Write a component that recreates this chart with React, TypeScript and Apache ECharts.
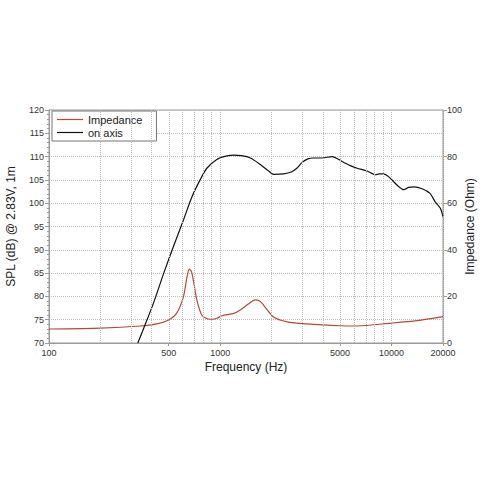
import React, { useEffect, useRef } from "react";
import * as echarts from "echarts";

// SPL "on axis" (dB) vs frequency (Hz)
const splFreq = [330, 364, 407, 468, 533, 610, 684, 763, 835, 955, 1080, 1200, 1330, 1500, 1715, 1900, 2050, 2345, 2600, 2800, 3000, 3250, 3500, 3935, 4500, 5240, 5800, 6300, 7200, 8050, 8500, 8980, 9620, 10770, 11800, 12600, 13500, 15100, 16800, 18000, 19300, 20000];
const splValues = [70, 73.9, 78.5, 85, 90.7, 96.4, 101.4, 105, 107.5, 109.4, 110.1, 110.3, 110.2, 109.7, 108.3, 107.0, 106.2, 106.3, 106.7, 107.5, 108.7, 109.5, 109.7, 109.7, 110, 108.8, 108.0, 107.5, 106.9, 106.1, 106.3, 106.3, 105.7, 103.9, 102.9, 103.4, 103.5, 103.1, 102.1, 100.3, 98.9, 97.1];

// Impedance (Ohm) vs frequency (Hz)
const impFreq = [100, 200, 340, 425, 500, 556, 610, 640, 660, 680, 700, 730, 780, 850, 900, 955, 1025, 1200, 1310, 1450, 1600, 1700, 1790, 2040, 2460, 3210, 5000, 6300, 9880, 14100, 20000];
const impValues = [6.0, 6.4, 7.3, 8.2, 9.9, 12.7, 19.9, 28.5, 31.7, 30.5, 26.0, 18.5, 12.0, 10.3, 10.2, 10.6, 11.7, 12.7, 14.2, 16.6, 18.5, 18.0, 16.3, 11.3, 9.1, 8.2, 7.4, 7.3, 8.5, 9.6, 11.3];

// Frequency grid lines and labels
const gridFreqs = [200, 300, 400, 500, 600, 700, 800, 900, 1000, 2000, 3000, 4000, 5000, 6000, 7000, 8000, 9000, 10000, 20000];
const labelFreqs = [100, 500, 1000, 5000, 10000, 20000];

const FONT = "Liberation Sans, Arial, Helvetica, sans-serif";

export default function App() {
  const ref = useRef<HTMLDivElement>(null);

  useEffect(() => {
    if (!ref.current) return;
    const chart = echarts.init(ref.current, undefined, { renderer: "svg" });
    const lg = (f: number) => Math.log10(f);

    const markData = gridFreqs.map((f) => ({ xAxis: lg(f) }));
    const labelValues = labelFreqs.map(lg);

    chart.setOption({
      animation: false,
      textStyle: { fontFamily: FONT },
      grid: {
        left: 49,
        right: 37,
        top: 110,
        bottom: 137,
        show: true,
        borderColor: "#9a9a9a",
        borderWidth: 1,
        backgroundColor: "transparent",
        outerBoundsMode: "none",
        containLabel: false,
      },
      legend: {
        left: 52,
        top: 111,
        orient: "vertical",
        backgroundColor: "#fff",
        borderColor: "#777",
        borderWidth: 1,
        borderRadius: 0,
        padding: [3, 14, 3, 5],
        itemGap: 2,
        itemWidth: 26,
        itemHeight: 12,
        textStyle: { fontSize: 11, color: "#222", fontFamily: FONT },
        data: [
          { name: "Impedance", icon: "path://M0,5.4 L26,5.4 L26,6.6 L0,6.6 Z" },
          { name: "on axis", icon: "path://M0,5.4 L26,5.4 L26,6.6 L0,6.6 Z" },
        ],
      },
      xAxis: {
        type: "value",
        min: lg(100),
        max: lg(20000),
        name: "Frequency (Hz)",
        nameLocation: "middle",
        nameGap: 18,
        nameMoveOverlap: false,
        nameTextStyle: { fontSize: 12, color: "#222", fontFamily: FONT },
        axisLine: { lineStyle: { color: "#9a9a9a" } },
        axisTick: {
          show: true,
          length: 3,
          customValues: labelValues,
          lineStyle: { color: "#9a9a9a" },
        },
        axisLabel: {
          show: true,
          customValues: labelValues,
          margin: 5,
          fontSize: 9,
          color: "#333",
          fontFamily: FONT,
          hideOverlap: false,
          showMinLabel: true,
          showMaxLabel: true,
          alignMinLabel: "center",
          alignMaxLabel: "center",
          formatter: (v: number) => String(Math.round(Math.pow(10, v))),
        },
        splitLine: { show: false },
      },
      yAxis: [
        {
          type: "value",
          min: 70,
          max: 120,
          interval: 5,
          name: "SPL (dB) @ 2.83V, 1m",
          nameLocation: "middle",
          nameGap: 32,
          nameMoveOverlap: false,
          nameTextStyle: { fontSize: 12, color: "#222", fontFamily: FONT },
          axisLine: { show: true, lineStyle: { color: "#9a9a9a" } },
          axisTick: { show: true, length: 4, lineStyle: { color: "#9a9a9a" } },
          minorTick: { show: true, splitNumber: 5, length: 2, lineStyle: { color: "#9a9a9a" } },
          axisLabel: { fontSize: 9, color: "#333", margin: 5, fontFamily: FONT },
          splitLine: { show: true, lineStyle: { type: "dotted", color: "#bbbbbb" } },
        },
        {
          type: "value",
          min: 0,
          max: 100,
          interval: 20,
          position: "right",
          name: "Impedance (Ohm)",
          nameLocation: "middle",
          nameGap: 21,
          nameMoveOverlap: false,
          nameTextStyle: { fontSize: 12, color: "#222", fontFamily: FONT },
          axisLine: { show: true, lineStyle: { color: "#9a9a9a" } },
          axisTick: { show: true, length: 4, lineStyle: { color: "#9a9a9a" } },
          axisLabel: { fontSize: 9, color: "#333", margin: 4, fontFamily: FONT },
          splitLine: { show: false },
        },
      ],
      series: [
        {
          name: "Impedance",
          type: "line",
          yAxisIndex: 1,
          data: impFreq.map((f, i) => [lg(f), impValues[i]]),
          showSymbol: false,
          symbol: "none",
          smooth: 0.25,
          lineStyle: { color: "#b5483b", width: 1.2 },
          itemStyle: { color: "#b5483b" },
          markLine: {
            silent: true,
            symbol: "none",
            animation: false,
            label: { show: false },
            lineStyle: { type: "dotted", color: "#bbbbbb", width: 1 },
            emphasis: { disabled: true },
            data: markData,
          },
          z: 3,
        },
        {
          name: "on axis",
          type: "line",
          yAxisIndex: 0,
          data: splFreq.map((f, i) => [lg(f), splValues[i]]),
          showSymbol: false,
          symbol: "none",
          smooth: 0.25,
          lineStyle: { color: "#111", width: 1.2 },
          itemStyle: { color: "#111" },
          z: 4,
        },
      ],
    });

    return () => chart.dispose();
  }, []);

  return (
    <div
      ref={ref}
      style={{ position: "fixed", left: 0, top: 0, width: 480, height: 480, background: "#fff" }}
    />
  );
}
